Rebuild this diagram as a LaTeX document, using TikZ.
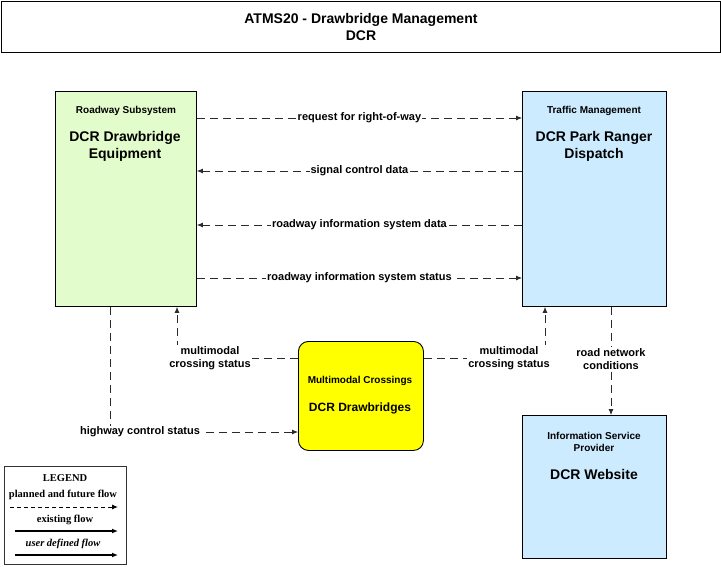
\documentclass[tikz,border=0pt]{standalone}
\usepackage{fontspec}
\setmainfont{Liberation Sans}
\newfontfamily\legendfont{Liberation Serif}
\usetikzlibrary{arrows.meta,positioning}
\definecolor{rdwgreen}{HTML}{E3FCCB}
\definecolor{tmblue}{HTML}{CCEBFF}
\definecolor{xingyellow}{HTML}{FFFF00}
\definecolor{flowgray}{HTML}{2A2A2A}

\begin{document}
\begin{tikzpicture}[x=1pt,y=-1pt,
  sysbox/.style={draw, line width=0.9pt, anchor=north west, inner sep=0pt},
  cls/.style={font=\fontsize{10}{12}\selectfont\bfseries, align=center},
  ename/.style={font=\fontsize{14}{17}\selectfont\bfseries, align=center},
  flow/.style={draw=flowgray, line width=0.8pt, dash pattern=on 8pt off 5pt,
               -{Latex[length=6pt,width=5pt]}},
  flowlbl/.style={fill=white, inner sep=1pt, align=center,
                  font=\fontsize{11}{13}\selectfont\bfseries},
  leg/.style={font=\legendfont\fontsize{10.5}{12}\selectfont\bfseries}
]
\useasboundingbox (0,0) rectangle (721,567);

%% title
\node[sysbox, minimum width=719pt, minimum height=51pt, align=center,
      font=\fontsize{14}{17}\selectfont\bfseries] (title) at (1,1)
  {ATMS20 - Drawbridge Management\\DCR};

%% elements
\node[sysbox, fill=rdwgreen, minimum width=141pt, minimum height=215pt] (rdw) at (55,91) {};
\node[cls] (rdwcls) at (126,111) {Roadway Subsystem};
\node[ename] (rdwname) at (125,146) {DCR Drawbridge\\Equipment};

\node[sysbox, fill=tmblue, minimum width=144pt, minimum height=215pt] (tm) at (522,91) {};
\node[cls] (tmcls) at (594,111) {Traffic Management};
\node[ename] (tmname) at (594,146) {DCR Park Ranger\\Dispatch};

\node[sysbox, fill=tmblue, minimum width=144pt, minimum height=143pt] (isp) at (522,415) {};
\node[cls] (ispcls) at (594,442) {Information Service\\Provider};
\node[ename] (ispname) at (594,474) {DCR Website};

\node[sysbox, fill=xingyellow, rounded corners=10pt,
      minimum width=125pt, minimum height=109pt] (xing) at (298,341) {};
\node[cls] (xingcls) at (360,381) {Multimodal Crossings};
\node[font=\fontsize{12}{14}\selectfont\bfseries] (xingname) at (360,408) {DCR Drawbridges};

%% flows between Roadway and Traffic Management
\draw[flow] (rdw.east |- 0,118) -- (tm.west |- 0,118)
  node[flowlbl, midway] {request for right-of-way};
\draw[flow] (tm.west |- 0,171) -- (rdw.east |- 0,171)
  node[flowlbl, midway] {signal control data};
\draw[flow] (tm.west |- 0,225) -- (rdw.east |- 0,225)
  node[flowlbl, midway] {roadway information system data};
\draw[flow] (rdw.east |- 0,278) -- (tm.west |- 0,278)
  node[flowlbl, midway] {roadway information system status};

%% flows to and from the drawbridges
\draw[flow] (xing.west |- 0,358) -| (rdw.south -| 177,0);
\node[flowlbl] (mcs1) at (210,358) {multimodal\\crossing status};
\draw[flow] (xing.east |- 0,358) -| (tm.south -| 545,0);
\node[flowlbl] (mcs2) at (509,358) {multimodal\\crossing status};
\draw[flow] (rdw.south -| 110,0) |- (xing.west |- 0,432);
\node[flowlbl] (hcs) at (140,432) {highway control status};

%% flow to website
\draw[flow] (tm.south -| 611,0) -- (isp.north -| 611,0);
\node[flowlbl] (rnc) at (611,359) {road network\\conditions};

%% legend
\node[sysbox, draw=black!80, line width=1.4pt, minimum width=122pt, minimum height=98pt] (legend) at (4,466) {};
\node[leg] (legtitle) at (65,478) {LEGEND};
\node[leg] (legplan) at (63,495) {planned and future flow};
\coordinate (p1) at (10,507);
\coordinate (p2) at (118,507);
\draw[line width=1pt, dash pattern=on 4pt off 3pt, -{Latex[length=6pt,width=5pt]}] (p1) -- (p2);
\node[leg] (legexist) at (65,520) {existing flow};
\coordinate (e1) at (15,531);
\coordinate (e2) at (118,531);
\draw[line width=1.4pt, -{Latex[length=6pt,width=5pt]}] (e1) -- (e2);
\node[leg, font=\legendfont\fontsize{10.5}{12}\selectfont\bfseries\itshape] (leguser) at (63,544) {user defined flow};
\coordinate (u1) at (15,555);
\coordinate (u2) at (118,555);
\draw[line width=1.4pt, -{Latex[length=6pt,width=5pt]}] (u1) -- (u2);

\end{tikzpicture}
\end{document}
